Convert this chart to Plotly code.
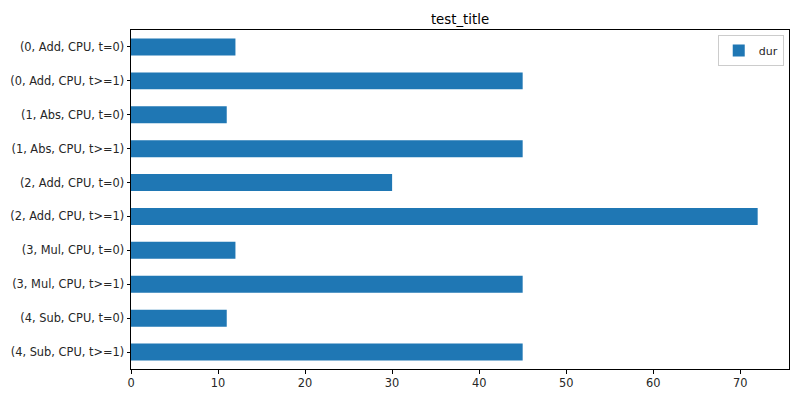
import plotly.graph_objects as go

categories = [
    "(0, Add, CPU, t=0)",
    "(0, Add, CPU, t>=1)",
    "(1, Abs, CPU, t=0)",
    "(1, Abs, CPU, t>=1)",
    "(2, Add, CPU, t=0)",
    "(2, Add, CPU, t>=1)",
    "(3, Mul, CPU, t=0)",
    "(3, Mul, CPU, t>=1)",
    "(4, Sub, CPU, t=0)",
    "(4, Sub, CPU, t>=1)",
]
dur = [12, 45, 11, 45, 30, 72, 12, 45, 11, 45]
x_ticks = [0, 10, 20, 30, 40, 50, 60, 70]

font = "DejaVu Sans"
fig = go.Figure()
fig.add_trace(go.Bar(
    x=dur, y=categories, orientation="h", name="dur",
    marker=dict(color="#1f77b4", line=dict(width=0)),
    width=0.5, showlegend=True,
))

fig.update_layout(
    width=800, height=400,
    margin=dict(l=131, r=11, t=30, b=31, autoexpand=False),
    paper_bgcolor="white", plot_bgcolor="white",
    font=dict(family=font, size=11.4, color="#262626"),
    title=dict(text="test_title", x=(131 + 789) / 2 / 800, xanchor="center",
               y=1 - 19 / 400, yanchor="middle",
               font=dict(family=font, size=13.3, color="black")),
    legend=dict(x=0.992, xanchor="right", y=0.985, yanchor="top",
                bordercolor="#cccccc", borderwidth=1, bgcolor="white",
                itemwidth=30, tracegroupgap=0,
                font=dict(family=font, size=11, color="#262626")),
    xaxis=dict(range=[0, 75.6], tickvals=x_ticks, showgrid=False, zeroline=False,
               automargin=False,
               showline=True, linecolor="black", linewidth=1, mirror=True,
               ticks="outside", ticklen=3.5, tickcolor="black", tickwidth=0.8),
    yaxis=dict(type="category", categoryorder="array", categoryarray=categories,
               autorange="reversed", showgrid=False, zeroline=False,
               automargin=False,
               showline=True, linecolor="black", linewidth=1, mirror=True,
               ticks="outside", ticklen=3.5, tickcolor="black", tickwidth=0.8),
)

fig.write_html(
    "out.html",
    config={"displayModeBar": False},
    post_script="document.body.style.margin='0';document.body.style.padding='0';",
)
